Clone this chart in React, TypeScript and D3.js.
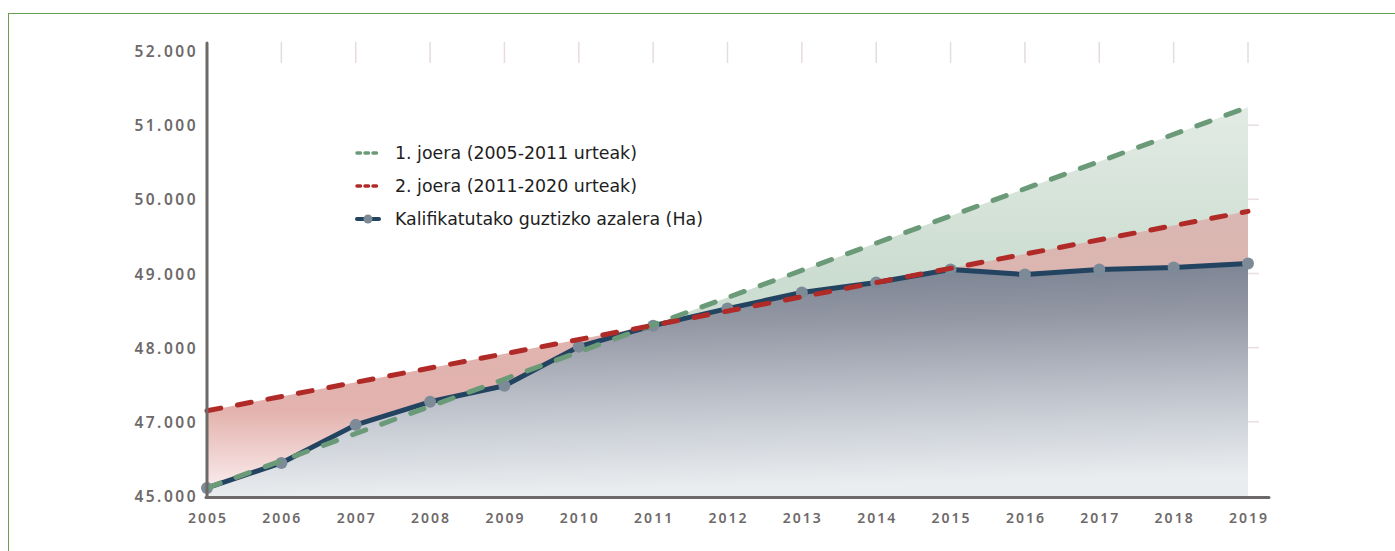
import * as d3 from "d3";

// values (axis positions; bottom label reads 45.000 in the source)
const years = [2005, 2006, 2007, 2008, 2009, 2010, 2011, 2012, 2013, 2014, 2015, 2016, 2017, 2018, 2019];
const azalera = [46108, 46446, 46959, 47270, 47486, 48014, 48297, 48527, 48743, 48878, 49054, 48986, 49054, 49081, 49135];

const trend1Years = [2005, 2019];
const trend1Values = [46108, 51243];
const trend2Years = [2005, 2019];
const trend2Values = [47149, 49838];

const yTicks = [46000, 47000, 48000, 49000, 50000, 51000, 52000];
const yTickLabels = ["45.000", "47.000", "48.000", "49.000", "50.000", "51.000", "52.000"];

const legendLabels = [
  "1. joera (2005-2011 urteak)",
  "2. joera (2011-2020 urteak)",
  "Kalifikatutako guztizko azalera (Ha)",
];

const W = 1395;
const H = 551;
const GREEN = "#6b9a78";
const RED = "#b02b27";
const NAVY = "#234461";
const DOT = "#7c8b97";
const AXIS = "#6e6969";
const FONT = "'DejaVu Sans', sans-serif";
const TICK_FONT = "'Noto Sans', sans-serif";

type P = { year: number; value: number };

export default function App() {
  const x = d3.scaleLinear().domain([2005, 2019]).range([207, 1248]);
  const y = d3.scaleLinear().domain([46000, 52000]).range([496, 51]);
  const base = y(46000);

  const main: P[] = years.map((year, i) => ({ year, value: azalera[i] }));
  const t1: P[] = trend1Years.map((year, i) => ({ year, value: trend1Values[i] }));
  const t2: P[] = trend2Years.map((year, i) => ({ year, value: trend2Values[i] }));

  const line = d3
    .line<P>()
    .x((d) => x(d.year))
    .y((d) => y(d.value));
  const area = d3
    .area<P>()
    .x((d) => x(d.year))
    .y0(base)
    .y1((d) => y(d.value));

  const dash = "14 17";

  return (
    <svg
      width={W}
      height={H}
      style={{ position: "absolute", left: 0, top: 0, display: "block" }}
    >
      <defs>
        <linearGradient id="gGreen" x1="0" y1="0" x2="0" y2="1">
          <stop offset="0" stopColor="#e2ebe4" />
          <stop offset="0.45" stopColor="#cbdcd0" />
          <stop offset="1" stopColor="#dfe8e2" />
        </linearGradient>
        <linearGradient id="gRed" x1="0" y1="0" x2="0" y2="1">
          <stop offset="0" stopColor="#d9b7b2" />
          <stop offset="0.7" stopColor="#e3b2ae" />
          <stop offset="1" stopColor="#fcf1f1" />
        </linearGradient>
        <linearGradient id="gMain" x1="0" y1="0" x2="0.1" y2="1">
          <stop offset="0" stopColor="#737c8c" />
          <stop offset="0.3" stopColor="#9397a4" />
          <stop offset="0.7" stopColor="#c6cbd3" />
          <stop offset="1" stopColor="#eaedef" />
        </linearGradient>
      </defs>

      <rect x={8.5} y={13.5} width={W + 20} height={H + 20} fill="#fff" stroke="#68a04f" strokeWidth={1} />

      {/* top and right grid ticks */}
      {years.slice(1).map((yr) => (
        <line key={yr} x1={x(yr)} x2={x(yr)} y1={42} y2={63} stroke="#e6dcdc" strokeWidth={1.5} />
      ))}
      {yTicks.slice(1, -1).map((v) => (
        <line key={v} x1={1237} x2={1259} y1={y(v)} y2={y(v)} stroke="#eadede" strokeWidth={1.5} />
      ))}

      <path d={area(t1) ?? ""} fill="url(#gGreen)" />
      <path d={area(t2) ?? ""} fill="url(#gRed)" />
      <path d={area(main) ?? ""} fill="url(#gMain)" />

      <path d={line(main) ?? ""} fill="none" stroke={NAVY} strokeWidth={5} strokeLinejoin="round" />
      {main.map((d) => (
        <circle key={d.year} cx={x(d.year)} cy={y(d.value)} r={6} fill={DOT} />
      ))}
      <path d={line(t1) ?? ""} fill="none" stroke={GREEN} strokeWidth={5} strokeDasharray={dash} strokeLinecap="round" />
      <path d={line(t2) ?? ""} fill="none" stroke={RED} strokeWidth={5} strokeDasharray={dash} strokeLinecap="round" />

      {/* axes */}
      <line x1={207} x2={207} y1={43} y2={497} stroke={AXIS} strokeWidth={3} strokeLinecap="round" />
      <line x1={206} x2={1269} y1={497.5} y2={497.5} stroke={AXIS} strokeWidth={3} strokeLinecap="round" />

      {yTicks.map((v, i) => (
        <text
          key={v}
          x={198}
          y={y(v)}
          textAnchor="end"
          dominantBaseline="central"
          fontFamily={TICK_FONT}
          fontSize={15.5}
          fontWeight={600}
          letterSpacing={2.5}
          fill={AXIS}
        >
          {yTickLabels[i]}
        </text>
      ))}
      {years.map((yr) => (
        <text
          key={yr}
          x={x(yr) + 1}
          y={517}
          textAnchor="middle"
          dominantBaseline="central"
          fontFamily={TICK_FONT}
          fontSize={14}
          fontWeight={600}
          letterSpacing={2}
          fill={AXIS}
        >
          {yr}
        </text>
      ))}

      {/* legend */}
      {legendLabels.map((label, i) => {
        const ly = 153 + i * 33;
        return (
          <g key={label}>
            {i < 2 ? (
              <line
                x1={357}
                x2={379}
                y1={ly}
                y2={ly}
                stroke={i === 0 ? GREEN : RED}
                strokeWidth={3.5}
                strokeDasharray="3.5 4.5"
                strokeLinecap="round"
              />
            ) : (
              <g>
                <line x1={357} x2={379} y1={ly} y2={ly} stroke={NAVY} strokeWidth={4} strokeLinecap="round" />
                <circle cx={368} cy={ly} r={4.5} fill={DOT} />
              </g>
            )}
            <text x={395} y={ly} dominantBaseline="central" fontFamily={FONT} fontSize={17.4} fill="#1e1e1e">
              {label}
            </text>
          </g>
        );
      })}
    </svg>
  );
}
